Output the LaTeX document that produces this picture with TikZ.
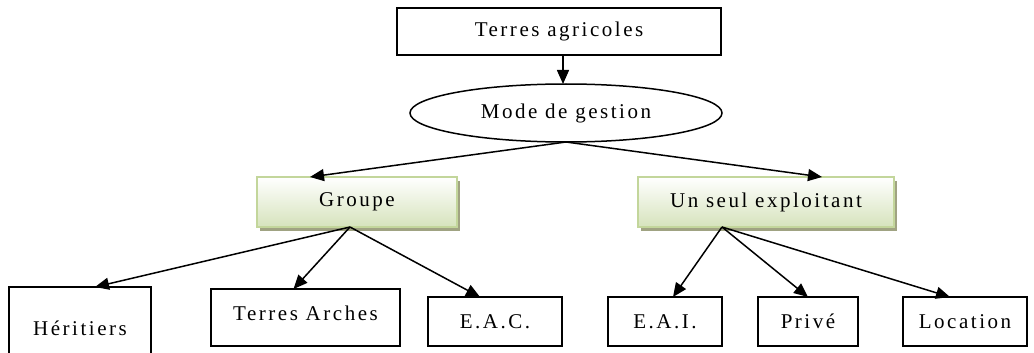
\documentclass[tikz,border=0pt]{standalone}
\usepackage{fontspec}
\setmainfont{Liberation Serif}[LetterSpace=12]
\usetikzlibrary{arrows.meta,shapes.geometric,shadows}
\definecolor{gbot}{RGB}{214,227,188}
\definecolor{gline}{RGB}{195,214,155}
\definecolor{gshadow}{RGB}{160,163,130}
\begin{document}
\begin{tikzpicture}[x=1pt,y=-1pt,
  every node/.style={font=\fontsize{21}{25}\selectfont, inner sep=0pt, outer sep=0pt},
  plainbox/.style={draw=black, line width=1.4pt, rectangle},
  greenbox/.style={rectangle, draw=gline, line width=2pt, top color=white, bottom color=gbot,
     drop shadow={shadow xshift=3pt, shadow yshift=-4pt, fill=gshadow, opacity=1}},
  oval/.style={ellipse, draw=black, line width=1.5pt},
  arr/.style={-{Triangle[length=14pt,width=12pt]}, line width=1.5pt, black}]
\clip (0,0) rectangle (1034,353);
\fill[white] (0,0) rectangle (1034,353);
\node[plainbox, minimum width=324pt, minimum height=47pt] (t) at (559,31.5) {Terres agricoles};
\node[oval, minimum width=312pt, minimum height=58pt] (m) at (566,113) {Mode de gestion};
\node[greenbox, minimum width=200pt, minimum height=50pt] (g) at (357,202) {Groupe};
\node[greenbox, minimum width=256pt, minimum height=50pt] (u) at (766,202) {Un seul exploitant};
\node[plainbox, minimum width=142pt, minimum height=82pt] (h) at (80,328) {Héritiers};
\node[plainbox, minimum width=189pt, minimum height=57pt, text depth=8pt] (ta) at (305.5,317.5) {Terres Arches};
\node[plainbox, minimum width=134pt, minimum height=49pt] (eac) at (495,321.5) {E.A.C.};
\node[plainbox, minimum width=114pt, minimum height=49pt] (eai) at (665,321.5) {E.A.I.};
\node[plainbox, minimum width=100pt, minimum height=49pt] (pr) at (808,321.5) {Privé};
\node[plainbox, minimum width=124pt, minimum height=49pt] (lo) at (965,321.5) {Location};
\draw[arr] ([xshift=4pt]t.south) -- ([xshift=4pt]t.south |- m.north);
\draw[arr] (m.south) -- ([xshift=-47pt]g.north);
\draw[arr] (m.south) -- ([xshift=56pt]u.north);
\draw[arr] ([xshift=-7pt]g.south) -- ([xshift=15pt]h.north);
\draw[arr] ([xshift=-7pt]g.south) -- ([xshift=-12pt]ta.north);
\draw[arr] ([xshift=-7pt]g.south) -- ([xshift=-15pt]eac.north);
\draw[arr] ([xshift=-44pt]u.south) -- ([xshift=8pt]eai.north);
\draw[arr] ([xshift=-44pt]u.south) -- (pr.north);
\draw[arr] ([xshift=-44pt]u.south) -- ([xshift=-15pt]lo.north);
\end{tikzpicture}
\end{document}
